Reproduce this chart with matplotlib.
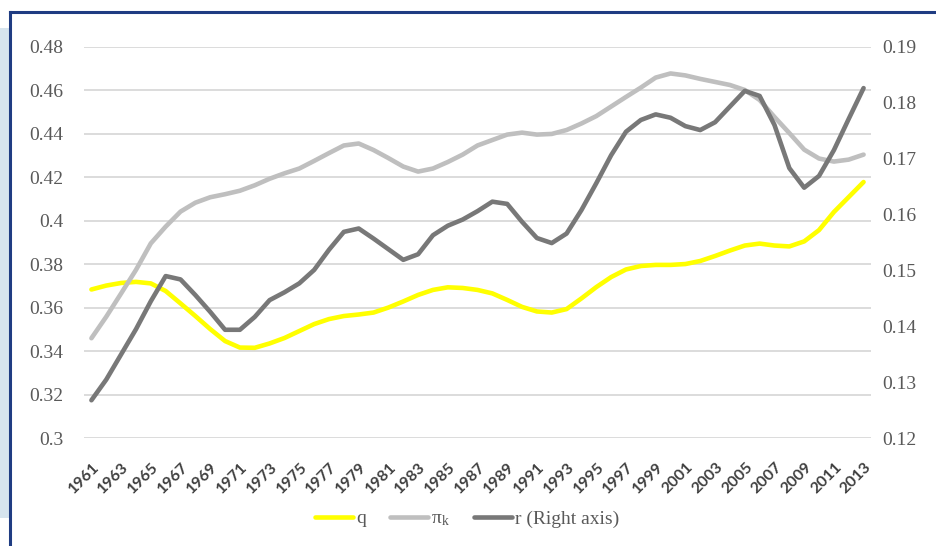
import matplotlib
matplotlib.use("Agg")
import matplotlib.pyplot as plt
from matplotlib.patches import Rectangle
from matplotlib.lines import Line2D
from matplotlib.transforms import ScaledTranslation

years = list(range(1961, 2014))

q = [0.3684, 0.3702, 0.3714, 0.3719, 0.3712, 0.3677, 0.3620, 0.3562, 0.3502, 0.3447,
     0.3417, 0.3416, 0.3436, 0.3461, 0.3493, 0.3525, 0.3548, 0.3562, 0.3569, 0.3578,
     0.3601, 0.3629, 0.3659, 0.3682, 0.3694, 0.3691, 0.3682, 0.3666, 0.3636, 0.3604,
     0.3583, 0.3578, 0.3594, 0.3643, 0.3695, 0.3741, 0.3776, 0.3792, 0.3797, 0.3797,
     0.3801, 0.3815, 0.3838, 0.3863, 0.3886, 0.3895, 0.3886, 0.3882, 0.3905, 0.3957,
     0.4040, 0.4109, 0.4178]

pi_k = [0.3460, 0.3559, 0.3666, 0.3774, 0.3896, 0.3973, 0.4042, 0.4083, 0.4108, 0.4122,
        0.4138, 0.4163, 0.4193, 0.4218, 0.4240, 0.4275, 0.4311, 0.4346, 0.4355, 0.4325,
        0.4288, 0.4249, 0.4226, 0.4240, 0.4270, 0.4304, 0.4346, 0.4371, 0.4396, 0.4405,
        0.4396, 0.4399, 0.4417, 0.4447, 0.4481, 0.4525, 0.4569, 0.4612, 0.4658, 0.4677,
        0.4668, 0.4652, 0.4638, 0.4624, 0.4601, 0.4555, 0.4477, 0.4403, 0.4327, 0.4286,
        0.4272, 0.4281, 0.4304]

r = [0.1268, 0.1305, 0.1350, 0.1395, 0.1445, 0.1490, 0.1484, 0.1456, 0.1426, 0.1394,
     0.1394, 0.1417, 0.1447, 0.1461, 0.1477, 0.1501, 0.1537, 0.1569, 0.1575, 0.1557,
     0.1538, 0.1519, 0.1529, 0.1563, 0.1580, 0.1591, 0.1606, 0.1623, 0.1619, 0.1587,
     0.1558, 0.1549, 0.1566, 0.1608, 0.1656, 0.1706, 0.1748, 0.1769, 0.1779, 0.1773,
     0.1758, 0.1751, 0.1765, 0.1793, 0.1821, 0.1812, 0.1760, 0.1683, 0.1648, 0.1669,
     0.1715, 0.1771, 0.1826]

left_ticks = [0.30, 0.32, 0.34, 0.36, 0.38, 0.40, 0.42, 0.44, 0.46, 0.48]
left_labels = ["0.3", "0.32", "0.34", "0.36", "0.38", "0.4", "0.42", "0.44", "0.46", "0.48"]
right_ticks = [0.12, 0.13, 0.14, 0.15, 0.16, 0.17, 0.18, 0.19]
right_labels = ["0.12", "0.13", "0.14", "0.15", "0.16", "0.17", "0.18", "0.19"]
x_tick_years = list(range(1961, 2014, 2))

labels = ["q", r"$\mathregular{π_k}$", "r (Right axis)"]

W, H = 936, 546
fig = plt.figure(figsize=(W / 100, H / 100), dpi=100)
fig.patch.set_facecolor("white")

# decorative frame
fig.patches.append(Rectangle((0, 1 - 518 / H), 9 / W, (518 - 28) / H,
                             transform=fig.transFigure, facecolor="#D6E4EE",
                             edgecolor="none", zorder=0))
fig.add_artist(Line2D([10 / W, 10 / W], [0, 1 - 12 / H], transform=fig.transFigure,
                      color="#1F3C82", lw=2.2, zorder=1))
fig.add_artist(Line2D([10 / W, 1], [1 - 12 / H, 1 - 12 / H], transform=fig.transFigure,
                      color="#1F3C82", lw=2.2, zorder=1))

left, right = 84 / W, 871 / W
bottom, top = 1 - 438.3 / H, 1 - 46.7 / H
ax = fig.add_axes([left, bottom, right - left, top - bottom])
ax.set_facecolor("none")
ax2 = ax.twinx()

lw = 3.3
l1, = ax.plot(years, q, color="#FFFF00", lw=lw, solid_capstyle="round",
              solid_joinstyle="round", zorder=3)
l2, = ax.plot(years, pi_k, color="#BFBFBF", lw=lw, solid_capstyle="round",
              solid_joinstyle="round", zorder=4)
l3, = ax2.plot(years, r, color="#787878", lw=lw, solid_capstyle="round",
               solid_joinstyle="round", zorder=5)

ax.set_xlim(1960.5, 2013.5)
ax.set_ylim(0.30, 0.48)
ax2.set_ylim(0.12, 0.19)

serif = ["Liberation Serif", "DejaVu Serif"]
ax.set_yticks(left_ticks)
ax.set_yticklabels(left_labels, fontsize=14, color="#595959", family=serif)
ax2.set_yticks(right_ticks)
ax2.set_yticklabels(right_labels, fontsize=14, color="#595959", family=serif)
ax.tick_params(axis="y", length=0, pad=15)
ax2.tick_params(axis="y", length=0, pad=8)

ax.set_xticks(x_tick_years)
ax.set_xticklabels([str(y) for y in x_tick_years], rotation=45, ha="right",
                   va="center", rotation_mode="anchor", fontsize=11.5,
                   fontweight="bold", color="#404040", family="Lato")
ax.tick_params(axis="x", length=0, pad=9)
offset = ScaledTranslation(4 / 72, -10 / 72, fig.dpi_scale_trans)
for lab in ax.get_xticklabels():
    lab.set_transform(lab.get_transform() + offset)

ax.grid(axis="y", color="#D9D9D9", lw=1.3, zorder=0)
ax.set_axisbelow(True)
for a in (ax, ax2):
    for s in a.spines.values():
        s.set_visible(False)

leg = fig.legend([l1, l2, l3], labels, loc="center", bbox_to_anchor=(0.499, 27 / H),
                 ncol=3, frameon=False, handlelength=2.0, handletextpad=0.15,
                 columnspacing=1.2, prop={"family": serif, "size": 14})
for t in leg.get_texts():
    t.set_color("#595959")

fig.savefig("out.png", dpi=100, facecolor="white")
